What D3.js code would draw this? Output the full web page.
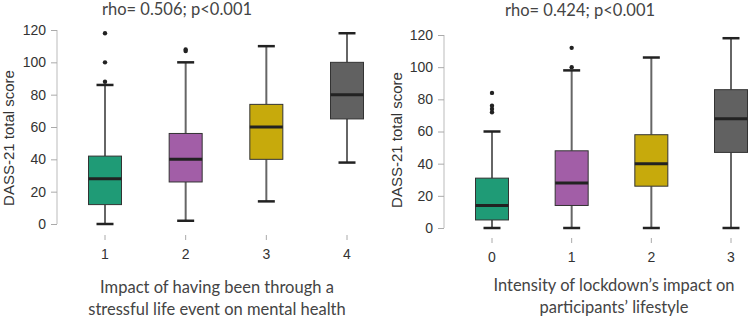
<!DOCTYPE html>
<html>
<head>
<meta charset="utf-8">
<script src="https://cdn.jsdelivr.net/npm/d3@7"></script>
<style>
  body { margin: 0; background: #fff; }
  svg { display: block; }
  .tick-label { font-family: "Liberation Sans", Arial, sans-serif; font-size: 14px; fill: #333; }
  .y-title { font-family: "Liberation Sans", Arial, sans-serif; font-size: 15px; fill: #333; }
  .caption { font-family: Lato, "Open Sans", sans-serif; font-size: 16.5px; fill: #444; }
</style>
</head>
<body>
<div id="chart"></div>
<script>
// data
const colors = ['#1f9b76', '#a25ea7', '#c7aa0c', '#616161'];

const leftCats = ['1', '2', '3', '4'];
const leftLow = [0, 2, 14, 38];
const leftQ1 = [12, 26, 40, 65];
const leftMed = [28, 40, 60, 80];
const leftQ3 = [42, 56, 74, 100];
const leftHigh = [86, 100, 110, 118];
const leftOutliers = [[88, 100, 118], [107, 108], [], []];

const rightCats = ['0', '1', '2', '3'];
const rightLow = [0, 0, 0, 0];
const rightQ1 = [5, 14, 26, 47];
const rightMed = [14, 28, 40, 68];
const rightQ3 = [31, 48, 58, 86];
const rightHigh = [60, 98, 106, 118];
const rightOutliers = [[72, 74, 76, 84], [100, 112], [], []];

const yTicks = [0, 20, 40, 60, 80, 100, 120];

const panels = [
  {
    cats: leftCats, low: leftLow, q1: leftQ1, med: leftMed, q3: leftQ3, high: leftHigh, out: leftOutliers,
    title: 'rho= 0.506; p<0.001',
    xlabel: ['Impact of having been through a', 'stressful life event on mental health'],
    axisX: 57, x0: 105, x1: 347, yTop: 30, yBottom: 224, xTickY: 235, titleX: 177, titleY: 15,
    labelX: 217, labelY: 293, yTitleX: 14, yTitleY: 138
  },
  {
    cats: rightCats, low: rightLow, q1: rightQ1, med: rightMed, q3: rightQ3, high: rightHigh, out: rightOutliers,
    title: 'rho= 0.424; p<0.001',
    xlabel: ['Intensity of lockdown\u2019s impact on', 'participants\u2019 lifestyle'],
    axisX: 444, x0: 492, x1: 731, yTop: 35, yBottom: 228, xTickY: 238, titleX: 580, titleY: 16,
    labelX: 614, labelY: 291, yTitleX: 402, yTitleY: 140
  }
];

const width = 749, height = 319;
const BOX_W = 33, CAP_W = 17;

const svg = d3.select('#chart').append('svg')
  .attr('width', width)
  .attr('height', height);

panels.forEach(p => {
  const g = svg.append('g');
  const n = p.cats.length;
  const step = (p.x1 - p.x0) / (n - 1);

  const x = d3.scaleBand()
    .domain(p.cats)
    .range([p.x0 - step / 2, p.x1 + step / 2]);
  const y = d3.scaleLinear().domain([0, 120]).range([p.yBottom, p.yTop]);

  // y axis
  const yAxis = g.append('g')
    .attr('transform', `translate(${p.axisX},0)`)
    .call(d3.axisLeft(y).tickValues(yTicks).tickSize(6).tickPadding(5));
  yAxis.select('.domain').attr('stroke', '#bbb').attr('d', `M0,${y(0)}V${y(120)}`);
  yAxis.selectAll('.tick line').attr('stroke', '#aaa');
  yAxis.selectAll('.tick text').attr('class', 'tick-label');
  yAxis.attr('font-size', null).attr('font-family', null);

  // x axis: ticks only
  const xAxis = g.append('g')
    .attr('transform', `translate(0,${p.xTickY})`)
    .call(d3.axisBottom(x).tickSize(5).tickPadding(9));
  xAxis.select('.domain').remove();
  xAxis.selectAll('.tick line').attr('stroke', '#aaa');
  xAxis.selectAll('.tick text').attr('class', 'tick-label');
  xAxis.attr('font-size', null).attr('font-family', null);

  const cx = c => x(c) + x.bandwidth() / 2;

  p.cats.forEach((c, i) => {
    const xc = cx(c);
    // whiskers
    g.append('line')
      .attr('x1', xc).attr('x2', xc)
      .attr('y1', y(p.low[i])).attr('y2', y(p.q1[i]))
      .attr('stroke', '#666').attr('stroke-width', 2);
    g.append('line')
      .attr('x1', xc).attr('x2', xc)
      .attr('y1', y(p.q3[i])).attr('y2', y(p.high[i]))
      .attr('stroke', '#666').attr('stroke-width', 2);
    [p.low[i], p.high[i]].forEach(v => {
      g.append('line')
        .attr('x1', xc - CAP_W / 2).attr('x2', xc + CAP_W / 2)
        .attr('y1', y(v)).attr('y2', y(v))
        .attr('stroke', '#222').attr('stroke-width', 2.5);
    });
    // box
    g.append('rect')
      .attr('x', xc - BOX_W / 2)
      .attr('y', y(p.q3[i]))
      .attr('width', BOX_W)
      .attr('height', y(p.q1[i]) - y(p.q3[i]))
      .attr('fill', colors[i])
      .attr('stroke', '#333')
      .attr('stroke-width', 1);
    g.append('line')
      .attr('x1', xc - BOX_W / 2).attr('x2', xc + BOX_W / 2)
      .attr('y1', y(p.med[i])).attr('y2', y(p.med[i]))
      .attr('stroke', '#222').attr('stroke-width', 3);
    // outliers
    g.selectAll(null)
      .data(p.out[i])
      .join('circle')
      .attr('cx', xc)
      .attr('cy', d => y(d))
      .attr('r', 2.2)
      .attr('fill', '#222');
  });

  // titles
  g.append('text')
    .attr('class', 'caption')
    .attr('x', p.titleX).attr('y', p.titleY)
    .attr('text-anchor', 'middle')
    .text(p.title);

  g.append('text')
    .attr('class', 'caption')
    .attr('text-anchor', 'middle')
    .selectAll('tspan')
    .data(p.xlabel)
    .join('tspan')
    .attr('x', p.labelX)
    .attr('y', (d, i) => p.labelY + i * 22)
    .text(d => d);

  g.append('text')
    .attr('class', 'y-title')
    .attr('transform', `translate(${p.yTitleX},${p.yTitleY}) rotate(-90)`)
    .attr('text-anchor', 'middle')
    .text('DASS-21 total score');
});
</script>
</body>
</html>
